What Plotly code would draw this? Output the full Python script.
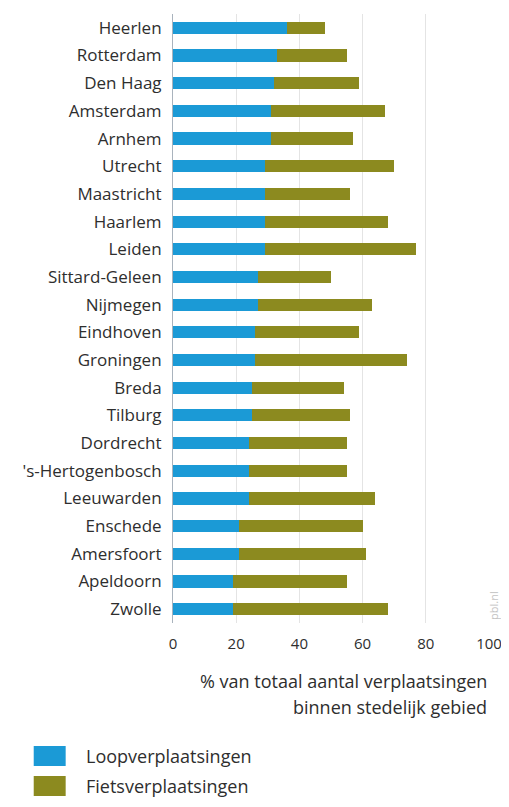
import plotly.graph_objects as go

cities = ["Heerlen", "Rotterdam", "Den Haag", "Amsterdam", "Arnhem", "Utrecht",
          "Maastricht", "Haarlem", "Leiden", "Sittard-Geleen", "Nijmegen", "Eindhoven",
          "Groningen", "Breda", "Tilburg", "Dordrecht", "'s-Hertogenbosch", "Leeuwarden",
          "Enschede", "Amersfoort", "Apeldoorn", "Zwolle"]
loop = [36, 33, 32, 31, 31, 29, 29, 29, 29, 27, 27, 26, 26, 25, 25, 24, 24, 24, 21, 21, 19, 19]
totaal = [48, 55, 59, 67, 57, 70, 56, 68, 77, 50, 63, 59, 74, 54, 56, 55, 55, 64, 60, 61, 55, 68]
fiets = [t - l for t, l in zip(totaal, loop)]
tick_vals = [0, 20, 40, 60, 80, 100]
tick_text = ["0", "20", "40", "60", "80", "100"]

BLUE = "#1b9ad6"
OLIVE = "#8c8a1f"
FONT = "Open Sans"
TXT = "#2e2e2e"

# page body has an 8px margin: figure sized/offset so the page does not scroll
OFF = 8
PL, PR, PT, PB = 172.5, 489, 14, 623  # plot area in page pixels
W, H = 509 - 2 * OFF, 807 - 2 * OFF


def px(x):
    return (x - PL) / (PR - PL)


def py(y):
    return (PB - y) / (PB - PT)


fig = go.Figure()
fig.add_trace(go.Bar(y=cities, x=loop, orientation="h", name="Loopverplaatsingen",
                     marker=dict(color=BLUE, line=dict(width=0)), showlegend=False))
fig.add_trace(go.Bar(y=cities, x=fiets, orientation="h", name="Fietsverplaatsingen",
                     marker=dict(color=OLIVE, line=dict(width=0)), showlegend=False))

fig.update_layout(
    width=W, height=H,
    barmode="stack", bargap=0.56,
    margin=dict(l=PL - OFF, r=W - (PR - OFF), t=PT - OFF, b=H - (PB - OFF), autoexpand=False),
    paper_bgcolor="white", plot_bgcolor="white",
    font=dict(family=FONT, size=17, color=TXT),
    xaxis=dict(range=[0, 100], tickvals=tick_vals, ticktext=tick_text,
               showgrid=True, gridcolor="#e4e4e4", gridwidth=1,
               zeroline=False, showline=False, ticks="", ticklabelstandoff=10,
               ticklabeloverflow="allow",
               tickfont=dict(size=15, color=TXT)),
    yaxis=dict(categoryorder="array", categoryarray=cities, autorange="reversed",
               showline=True, linecolor="#a9b3bd", linewidth=1, ticks="",
               ticklabelstandoff=7, tickfont=dict(size=17, color=TXT)),
)

# axis title (right aligned, two lines)
for yy, line in [(681, "% van totaal aantal verplaatsingen"), (707, "binnen stedelijk gebied")]:
    fig.add_annotation(xref="paper", yref="paper", x=1, y=py(yy), xanchor="right",
                       yanchor="middle", text=line, showarrow=False,
                       font=dict(size=18, color=TXT))

# legend (manual swatches)
legend_items = [("Loopverplaatsingen", BLUE), ("Fietsverplaatsingen", OLIVE)]
for i, (label, col) in enumerate(legend_items):
    yc = 756 + i * 30
    fig.add_shape(type="rect", xref="paper", yref="paper",
                  x0=px(33), x1=px(65), y0=py(yc - 10), y1=py(yc + 10),
                  fillcolor=col, line=dict(width=0))
    fig.add_annotation(xref="paper", yref="paper", x=px(83), y=py(yc),
                       xanchor="left", yanchor="middle", text=label, showarrow=False,
                       font=dict(size=18, color=TXT))

# watermark
fig.add_annotation(xref="paper", yref="paper", x=px(493), y=py(605),
                   xanchor="center", yanchor="middle", text="pbl.nl", textangle=-90,
                   showarrow=False, font=dict(size=11, color="#c4c4c4"))

fig.write_html("out.html")
